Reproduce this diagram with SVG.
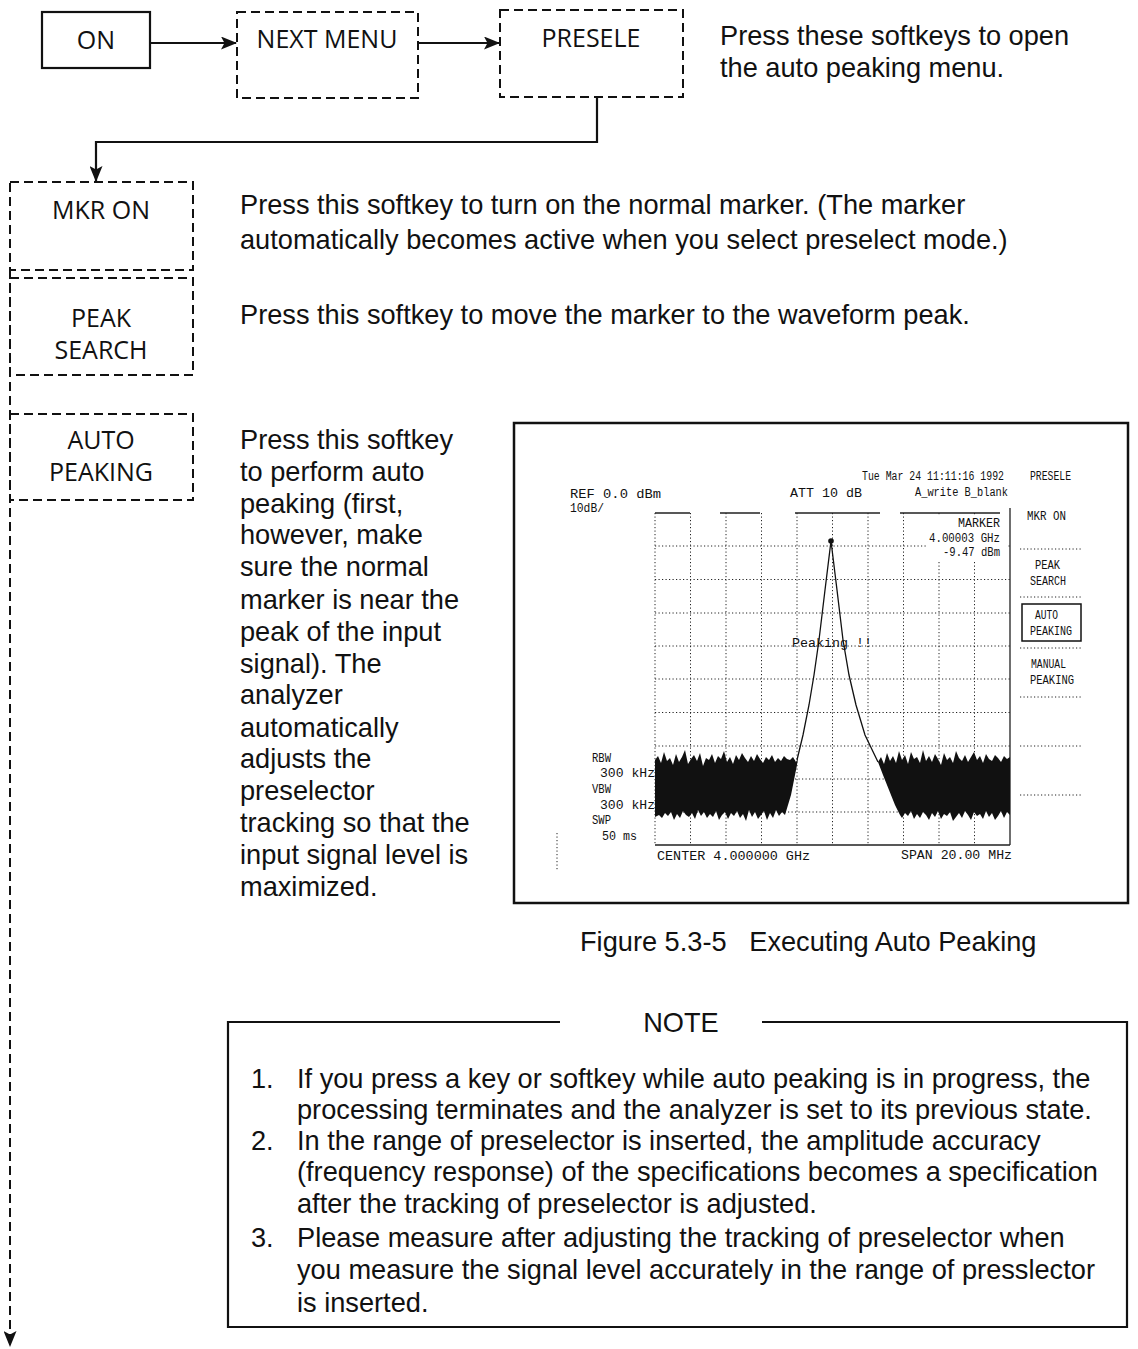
<svg xmlns="http://www.w3.org/2000/svg" width="1138" height="1349" viewBox="0 0 1138 1349">
<style>
.bg{fill:#fff}
.solid{fill:none;stroke:#111;stroke-width:2.2}
.dash{fill:none;stroke:#111;stroke-width:2;stroke-dasharray:9 5}
.lbl{font-family:"Open Sans","Liberation Sans",sans-serif;font-size:25px;fill:#111;text-anchor:middle}
.body{font-family:"Liberation Sans",Arial,sans-serif;font-size:27.2px;fill:#111}
.scr{font-family:"Liberation Mono","DejaVu Sans Mono",monospace;font-size:12px;fill:#111}
.grid{fill:none;stroke:#222;stroke-width:1;stroke-dasharray:1.2 2.3}
.conn{fill:none;stroke:#111;stroke-width:2.2}
</style>
<defs>
<marker id="arr" markerUnits="userSpaceOnUse" markerWidth="16" markerHeight="13" refX="15" refY="6.5" orient="auto">
<path d="M0,0 L16,6.5 L0,13 L3.5,6.5 z" fill="#111"/>
</marker>
</defs>
<rect class="bg" x="0" y="0" width="1138" height="1349"/>

<g id="node-on">
<rect class="solid" x="42" y="12" width="108" height="56"/>
<text class="lbl" x="96" y="49">ON</text>
</g>
<g id="node-next-menu">
<rect class="dash" x="237" y="12" width="181" height="86"/>
<text class="lbl" x="327" y="48">NEXT MENU</text>
</g>
<g id="node-presele">
<rect class="dash" x="500" y="10" width="183" height="87"/>
<text class="lbl" x="591" y="47">PRESELE</text>
</g>
<g id="node-mkr-on">
<rect class="dash" x="10" y="182" width="183" height="88"/>
<text class="lbl" x="101" y="219">MKR ON</text>
</g>
<g id="node-peak-search">
<rect class="dash" x="10" y="278" width="183" height="97"/>
<text class="lbl" x="101" y="327">PEAK</text>
<text class="lbl" x="101" y="359">SEARCH</text>
</g>
<g id="node-auto-peaking">
<rect class="dash" x="10" y="414" width="183" height="86"/>
<text class="lbl" x="101" y="449">AUTO</text>
<text class="lbl" x="101" y="481">PEAKING</text>
</g>

<g id="connectors">
<line class="conn" x1="150" y1="43" x2="236" y2="43" marker-end="url(#arr)"/>
<line class="conn" x1="418" y1="43" x2="499" y2="43" marker-end="url(#arr)"/>
<polyline class="conn" points="597,97 597,142 96,142 96,181" marker-end="url(#arr)"/>
<line class="dash" x1="10" y1="270" x2="10" y2="1346" marker-end="url(#arr)"/>
</g>

<g id="descriptions">
<text class="body" x="720" y="45">Press these softkeys to open</text>
<text class="body" x="720" y="77">the auto peaking menu.</text>
<text class="body" x="240" y="214">Press this softkey to turn on the normal marker. (The marker</text>
<text class="body" x="240" y="249">automatically becomes active when you select preselect mode.)</text>
<text class="body" x="240" y="324">Press this softkey to move the marker to the waveform peak.</text>
<text class="body" x="240" y="449">Press this softkey</text>
<text class="body" x="240" y="481">to perform auto</text>
<text class="body" x="240" y="513">peaking (first,</text>
<text class="body" x="240" y="544">however, make</text>
<text class="body" x="240" y="576">sure the normal</text>
<text class="body" x="240" y="609">marker is near the</text>
<text class="body" x="240" y="641">peak of the input</text>
<text class="body" x="240" y="673">signal). The</text>
<text class="body" x="240" y="704">analyzer</text>
<text class="body" x="240" y="737">automatically</text>
<text class="body" x="240" y="768">adjusts the</text>
<text class="body" x="240" y="800">preselector</text>
<text class="body" x="240" y="832">tracking so that the</text>
<text class="body" x="240" y="864">input signal level is</text>
<text class="body" x="240" y="896">maximized.</text>
</g>

<g id="screenshot">
<rect x="514" y="423" width="614" height="480" fill="#fff" stroke="#111" stroke-width="2.5"/>
<path class="grid" d="M655,513 V845 M690.5,513 V845 M726,513 V845 M761.5,513 V845 M797,513 V845 M832.5,513 V845 M868,513 V845 M903.5,513 V845 M939,513 V845 M974.5,513 V845"/>
<path class="grid" d="M655,546 H1010 M655,579.5 H1010 M655,613 H1010 M655,646 H1010 M655,679 H1010 M655,712.5 H1010 M655,746 H1010 M655,779 H1010 M655,812 H1010"/>
<rect x="926" y="515" width="82" height="45" fill="#fff"/>
<path d="M655,513 H690 M720,513 H760 M795,513 H880 M900,513 H1000 M1010,508 V845 M655,845 H1010" fill="none" stroke="#222" stroke-width="1.3"/>
<path class="grid" d="M557,833 V870"/>
<polygon fill="#111" points="655,760 658,756 661,763 664,752 667,761 670,758 673,765 676,754 679,762 682,757 685,750 688,764 691,759 694,755 697,761 700,753 703,766 706,758 709,760 712,754 715,763 718,756 721,759 724,751 727,762 730,757 733,764 736,755 739,760 742,753 745,758 748,762 751,756 754,761 757,754 760,759 763,763 766,757 769,760 772,755 775,762 778,758 781,761 784,756 787,759 790,760 793,757 796,762 798,758 797,765 794,780 791,795 788,805 785,815 782,812 779,816 776,810 773,818 770,813 767,820 764,811 761,815 758,819 755,812 752,817 749,810 746,821 743,814 740,818 737,811 734,816 731,813 728,819 725,812 722,815 719,820 716,811 713,817 710,814 707,818 704,812 701,816 698,810 695,819 692,813 689,817 686,815 683,811 680,818 677,814 674,820 671,812 668,816 665,813 662,818 659,815 655,817"/>
<polygon fill="#111" points="878,762 881,757 884,764 887,753 890,761 893,756 896,763 899,751 902,760 905,755 908,764 911,752 914,759 917,757 920,763 923,750 926,761 929,756 932,762 935,754 938,759 941,765 944,753 947,760 950,757 953,763 956,751 959,758 962,761 965,755 968,762 971,757 974,752 977,760 980,756 983,763 986,754 989,759 992,761 995,755 998,758 1001,762 1004,756 1007,759 1010,757 1010,815 1007,812 1004,818 1001,811 998,816 995,820 992,813 989,817 986,811 983,819 980,814 977,816 974,812 971,820 968,815 965,811 962,818 959,813 956,817 953,821 950,812 947,816 944,814 941,819 938,811 935,817 932,813 929,820 926,815 923,812 920,818 917,814 914,819 911,811 908,816 905,813 902,818 900,815 895,805 889,790 883,775"/>
<polyline fill="none" stroke="#111" stroke-width="1.3" points="797,760 803,735 809,705 814,675 819,640 825,590 831,541 837,590 843,640 849,675 856,705 865,735 878,762"/>
<circle cx="831" cy="541" r="2.8" fill="#111"/>
<text class="scr" x="862" y="480" textLength="142" lengthAdjust="spacingAndGlyphs">Tue Mar 24 11:11:16 1992</text>
<text class="scr" x="1030" y="480" textLength="41" lengthAdjust="spacingAndGlyphs">PRESELE</text>
<text class="scr" x="570" y="498" textLength="91" lengthAdjust="spacingAndGlyphs">REF 0.0 dBm</text>
<text class="scr" x="570" y="512" textLength="34" lengthAdjust="spacingAndGlyphs">10dB/</text>
<text class="scr" x="790" y="497" textLength="72" lengthAdjust="spacingAndGlyphs">ATT 10 dB</text>
<text class="scr" x="915" y="496" textLength="93" lengthAdjust="spacingAndGlyphs">A_write B_blank</text>
<text class="scr" x="1027" y="520" textLength="39" lengthAdjust="spacingAndGlyphs">MKR ON</text>
<text class="scr" x="958" y="527" textLength="42" lengthAdjust="spacingAndGlyphs">MARKER</text>
<text class="scr" x="929" y="542" textLength="71" lengthAdjust="spacingAndGlyphs">4.00003 GHz</text>
<text class="scr" x="943" y="556" textLength="57" lengthAdjust="spacingAndGlyphs">-9.47 dBm</text>
<text class="scr" x="1035" y="569" textLength="25" lengthAdjust="spacingAndGlyphs">PEAK</text>
<text class="scr" x="1030" y="585" textLength="36" lengthAdjust="spacingAndGlyphs">SEARCH</text>
<rect x="1022" y="604" width="59" height="37" fill="none" stroke="#111" stroke-width="1.5"/>
<text class="scr" x="1035" y="619" textLength="23" lengthAdjust="spacingAndGlyphs">AUTO</text>
<text class="scr" x="1030" y="635" textLength="42" lengthAdjust="spacingAndGlyphs">PEAKING</text>
<text class="scr" x="1031" y="668" textLength="35" lengthAdjust="spacingAndGlyphs">MANUAL</text>
<text class="scr" x="1030" y="684" textLength="44" lengthAdjust="spacingAndGlyphs">PEAKING</text>
<path class="grid" d="M1020,549 H1082 M1020,597 H1082 M1020,648 H1082 M1020,697 H1082 M1020,746 H1082 M1020,795 H1082"/>
<text class="scr" x="792" y="647" textLength="80" lengthAdjust="spacingAndGlyphs">Peaking !!</text>
<text class="scr" x="592" y="762" textLength="19" lengthAdjust="spacingAndGlyphs">RBW</text>
<text class="scr" x="600" y="777" textLength="55" lengthAdjust="spacingAndGlyphs">300 kHz</text>
<text class="scr" x="592" y="793" textLength="19" lengthAdjust="spacingAndGlyphs">VBW</text>
<text class="scr" x="600" y="809" textLength="55" lengthAdjust="spacingAndGlyphs">300 kHz</text>
<text class="scr" x="592" y="824" textLength="19" lengthAdjust="spacingAndGlyphs">SWP</text>
<text class="scr" x="602" y="840" textLength="35" lengthAdjust="spacingAndGlyphs">50 ms</text>
<text class="scr" x="657" y="860" textLength="153" lengthAdjust="spacingAndGlyphs">CENTER 4.000000 GHz</text>
<text class="scr" x="901" y="859" textLength="111" lengthAdjust="spacingAndGlyphs">SPAN 20.00 MHz</text>
</g>

<text class="body" x="580" y="951" xml:space="preserve">Figure 5.3-5   Executing Auto Peaking</text>

<g id="note">
<path class="conn" d="M560,1022 H228 V1327 H1127 V1022 H762"/>
<text class="body" x="681" y="1032" text-anchor="middle" font-size="24">NOTE</text>
<text class="body" x="251" y="1088">1.</text>
<text class="body" x="297" y="1088">If you press a key or softkey while auto peaking is in progress, the</text>
<text class="body" x="297" y="1119">processing terminates and the analyzer is set to its previous state.</text>
<text class="body" x="251" y="1150">2.</text>
<text class="body" x="297" y="1150">In the range of preselector is inserted, the amplitude accuracy</text>
<text class="body" x="297" y="1181">(frequency response) of the specifications becomes a specification</text>
<text class="body" x="297" y="1213">after the tracking of preselector is adjusted.</text>
<text class="body" x="251" y="1247">3.</text>
<text class="body" x="297" y="1247">Please measure after adjusting the tracking of preselector when</text>
<text class="body" x="297" y="1279">you measure the signal level accurately in the range of presslector</text>
<text class="body" x="297" y="1312">is inserted.</text>
</g>
</svg>
